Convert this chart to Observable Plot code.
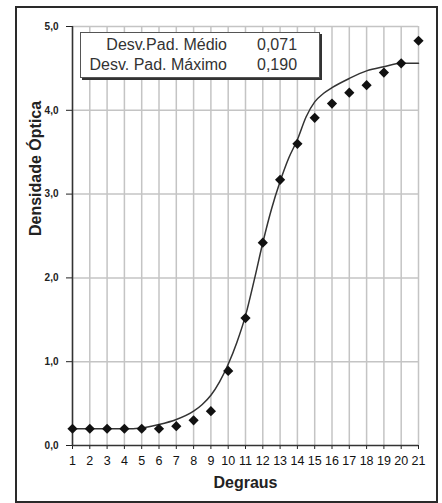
<!DOCTYPE html>
<html>
<head>
<meta charset="utf-8">
<script src="https://cdn.jsdelivr.net/npm/d3@7"></script>
<script src="https://cdn.jsdelivr.net/npm/@observablehq/plot@0.6"></script>
<style>
  html, body { margin: 0; padding: 0; background: #ffffff; }
  #wrap { position: relative; width: 442px; height: 503px; overflow: hidden; font-family: "Liberation Sans", Arial, sans-serif; }
  #frame { position: absolute; left: 15px; top: 6px; width: 419px; height: 493px; border: 2px solid #2a2a2a; pointer-events: none; }
  #stats { position: absolute; left: 80px; top: 32px; width: 238px; height: 44px; background: #fff;
           border: 1px solid #555; box-shadow: 2px 2px 0 #333; font-size: 16px; color: #333; }
  #stats .row { position: absolute; left: 0; width: 100%; height: 18px; line-height: 18px; }
  #stats .lab { position: absolute; right: 92px; white-space: nowrap; }
  #stats .val { position: absolute; left: 176px; white-space: nowrap; }
</style>
</head>
<body>
<div id="wrap"><div id="chart"></div><div id="stats"></div><div id="frame"></div></div>
<script>
// Data
const steps = [1,2,3,4,5,6,7,8,9,10,11,12,13,14,15,16,17,18,19,20,21];
const measured = [0.20,0.20,0.20,0.20,0.20,0.20,0.23,0.30,0.41,0.89,1.52,2.42,3.17,3.60,3.91,4.08,4.21,4.30,4.45,4.56,4.83];
const fitX = [1,2,3,4,5,6,7,8,8.5,9,9.5,10,10.5,11,11.5,12,12.5,13,13.5,14,14.5,15,15.5,16,17,18,19,20,21];
const fitY = [0.20,0.20,0.20,0.20,0.21,0.25,0.31,0.41,0.49,0.60,0.76,0.97,1.23,1.55,1.97,2.42,2.82,3.15,3.43,3.65,3.92,4.10,4.20,4.27,4.38,4.47,4.52,4.56,4.56];
const yTicks = [0,1,2,3,4,5];
const yTickLabels = ["0,0","1,0","2,0","3,0","4,0","5,0"];
const statLabels = ["Desv.Pad. Médio","Desv. Pad. Máximo"];
const statValues = ["0,071","0,190"];

const pts = steps.map((s,i) => ({x: s, y: measured[i]}));
const fit = fitX.map((s,i) => ({x: s, y: fitY[i]}));

const chart = Plot.plot({
  width: 442,
  height: 503,
  marginLeft: 72,
  marginRight: 24,
  marginTop: 26,
  marginBottom: 58,
  style: {fontFamily: "'Liberation Sans', Arial, sans-serif", background: "transparent", color: "#222"},
  x: {domain: [1,21], ticks: steps, tickFormat: d => String(d)},
  y: {domain: [0,5], ticks: yTicks},
  marks: [
    Plot.gridX(steps, {stroke: "#c4c4c4", strokeOpacity: 1, strokeWidth: 1.5}),
    Plot.gridY([1,2,3,4,5], {stroke: "#c4c4c4", strokeOpacity: 1, strokeWidth: 1.5}),
    Plot.axisX({ticks: steps, tickSize: 4, tickPadding: 7, fontSize: 12.5, fill: "#111", tickFormat: d => String(d), label: "Degraus", labelAnchor: "center", labelArrow: "none", labelOffset: 42}),
    Plot.axisY({ticks: yTicks, tickSize: 6, tickPadding: 8, fontSize: 10, fontWeight: "bold", tickFormat: (d,i) => yTickLabels[i], label: null}),
    Plot.ruleY([0], {stroke: "#333", strokeWidth: 1.5}),
    Plot.ruleX([1], {stroke: "#333", strokeWidth: 1.5}),
    Plot.line(fit, {x: "x", y: "y", curve: "monotone-x", stroke: "#333", strokeWidth: 1.5}),
    Plot.dot(pts, {x: "x", y: "y", symbol: "diamond2", r: 4.6, fill: "#111", stroke: "none"}),
    Plot.text(["Densidade Óptica"], {frameAnchor: "left", dx: -37, rotate: -90, fontSize: 16, fontWeight: "bold", fill: "#222"})
  ]
});
document.getElementById("chart").appendChild(chart);

// style the x axis label
d3.select(chart).selectAll("g[aria-label='x-axis label'] text").style("font-size", "16px").style("font-weight", "bold").style("fill", "#222");

// stats box
const box = document.getElementById("stats");
statLabels.forEach((lab, i) => {
  const row = document.createElement("div");
  row.className = "row";
  row.style.top = (3 + i * 20) + "px";
  row.innerHTML = `<span class="lab">${lab}</span><span class="val">${statValues[i]}</span>`;
  box.appendChild(row);
});
</script>
</body>
</html>
